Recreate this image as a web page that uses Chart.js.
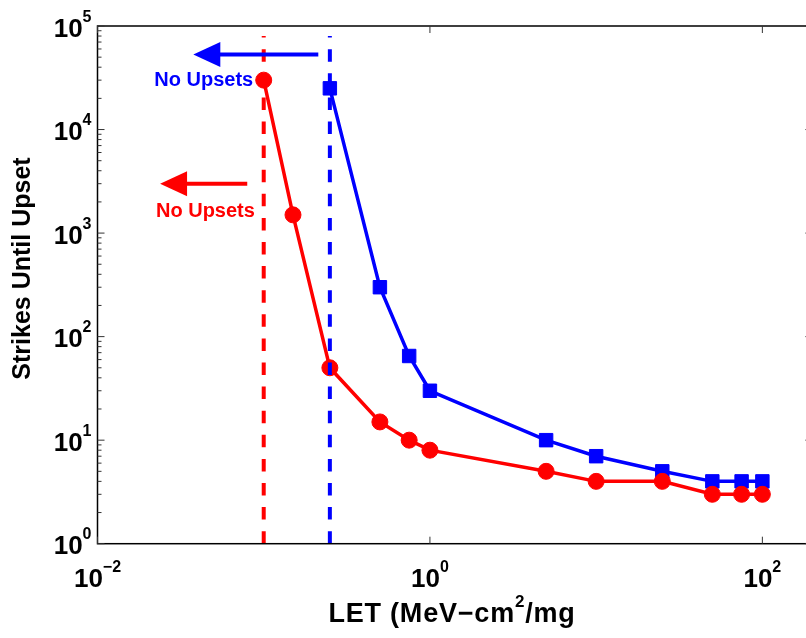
<!DOCTYPE html>
<html>
<head>
<meta charset="utf-8">
<title>Strikes Until Upset vs LET</title>
<script src="https://cdn.jsdelivr.net/npm/chart.js@4/dist/chart.umd.min.js"></script>
<style>
  html, body { margin: 0; padding: 0; overflow: hidden; background: #ffffff; }
  #wrap { position: relative; width: 830px; height: 638px; }
</style>
</head>
<body>
<div id="wrap"><canvas id="chart"></canvas></div>
<script>
// LET values (MeV-cm^2/mg) and strikes until upset for the two cells
const letRed = [0.1, 0.15, 0.25, 0.5, 0.75, 1, 5, 10, 25, 50, 75, 100];
const strikesRed = [30000, 1500, 50, 15, 10, 8, 5, 4, 4, 3, 3, 3];
const letBlue = [0.25, 0.5, 0.75, 1, 5, 10, 25, 50, 75, 100];
const strikesBlue = [25000, 300, 65, 30, 10, 7, 5, 4, 4, 4];

// Upset thresholds (vertical dashed lines) and their extent
const thresholdRed = 0.1;
const thresholdBlue = 0.25;
const thresholdSpan = [1, 80000];

// "No Upsets" arrows: [tip LET, tail LET, strikes]
const arrowBlue = [0.0377, 0.213, 53000];
const arrowRed = [0.0238, 0.0796, 3000];
// "No Upsets" label anchors (right end): [LET, strikes]
const noteBlue = [0.0865, 30000];
const noteRed = [0.0885, 1600];
const noteText = 'No Upsets';

// Axis ranges and labelled decades
const xRange = [0.01, 200];
const yRange = [1, 100000];
const xLabelExps = [-2, 0, 2];
const yLabelExps = [0, 1, 2, 3, 4, 5];

const RED = '#ff0000';
const BLUE = '#0000ff';
const FONT = '"Liberation Sans", Arial, Helvetica, sans-serif';

const toXY = (xs, ys) => xs.map((x, i) => ({ x: x, y: ys[i] }));
const sup = e => (e < 0 ? '\u2212' + Math.abs(e) : String(e));

// Draws "10" with a raised exponent; align is 'right' or 'center'
function drawPower(ctx, exp, ax, tickY, baseOff, supOff, align) {
  ctx.font = 'bold 26px ' + FONT;
  const w1 = ctx.measureText('10').width;
  ctx.font = 'bold 16px ' + FONT;
  const e = sup(exp);
  const w2 = ctx.measureText(e).width;
  const total = w1 + w2;
  const left = align === 'right' ? ax - total : ax - total / 2;
  ctx.textAlign = 'left';
  ctx.textBaseline = 'alphabetic';
  ctx.font = 'bold 26px ' + FONT;
  ctx.fillText('10', left, tickY + baseOff);
  ctx.font = 'bold 16px ' + FONT;
  ctx.fillText(e, left + w1, tickY + supOff);
}

function drawArrow(ctx, xs, ys, spec, color) {
  const tip = xs.getPixelForValue(spec[0]);
  const tail = xs.getPixelForValue(spec[1]);
  const y = ys.getPixelForValue(spec[2]);
  const headLen = 27, headHalf = 12.5;
  ctx.save();
  ctx.strokeStyle = color;
  ctx.fillStyle = color;
  ctx.lineWidth = 4;
  ctx.beginPath();
  ctx.moveTo(tail, y);
  ctx.lineTo(tip + headLen - 1, y);
  ctx.stroke();
  ctx.beginPath();
  ctx.moveTo(tip, y);
  ctx.lineTo(tip + headLen, y - headHalf);
  ctx.lineTo(tip + headLen, y + headHalf);
  ctx.closePath();
  ctx.fill();
  ctx.restore();
}

const frame = {
  id: 'frame',
  afterDatasetsDraw(chart) {
    const { ctx, scales: { x, y } } = chart;
    drawArrow(ctx, x, y, arrowBlue, BLUE);
    drawArrow(ctx, x, y, arrowRed, RED);
    ctx.save();
    ctx.font = 'bold 20px ' + FONT;
    ctx.textAlign = 'right';
    ctx.textBaseline = 'middle';
    ctx.fillStyle = BLUE;
    ctx.fillText(noteText, x.getPixelForValue(noteBlue[0]), y.getPixelForValue(noteBlue[1]));
    ctx.fillStyle = RED;
    ctx.fillText(noteText, x.getPixelForValue(noteRed[0]), y.getPixelForValue(noteRed[1]));
    ctx.restore();
  },
  afterDraw(chart) {
    const { ctx, chartArea: a, scales: { x, y } } = chart;
    ctx.save();
    ctx.strokeStyle = '#000000';
    ctx.fillStyle = '#000000';
    ctx.lineWidth = 1.5;
    ctx.strokeRect(a.left, a.top, a.right - a.left, a.bottom - a.top);

    ctx.lineWidth = 1;
    ctx.strokeStyle = '#333333';
    ctx.beginPath();
    // y ticks: majors at each decade, minors at 2..9
    for (let k = 0; k <= 5; k++) {
      const base = Math.pow(10, k);
      const py = y.getPixelForValue(base);
      ctx.moveTo(a.left, py); ctx.lineTo(a.left + 7, py);
      ctx.moveTo(a.right, py); ctx.lineTo(a.right - 7, py);
      if (k < 5) {
        for (let m = 2; m <= 9; m++) {
          const pm = y.getPixelForValue(base * m);
          ctx.moveTo(a.left, pm); ctx.lineTo(a.left + 4, pm);
          ctx.moveTo(a.right, pm); ctx.lineTo(a.right - 4, pm);
        }
      }
    }
    // x ticks at labelled decades
    xLabelExps.forEach(e => {
      const px = x.getPixelForValue(Math.pow(10, e));
      ctx.moveTo(px, a.bottom); ctx.lineTo(px, a.bottom - 7);
      ctx.moveTo(px, a.top); ctx.lineTo(px, a.top + 7);
    });
    ctx.stroke();

    // tick labels
    yLabelExps.forEach(e => {
      drawPower(ctx, e, a.left - 6, y.getPixelForValue(Math.pow(10, e)), 10.5, -4.5, 'right');
    });
    xLabelExps.forEach(e => {
      drawPower(ctx, e, x.getPixelForValue(Math.pow(10, e)), a.bottom, 43.5, 28.5, 'center');
    });

    // axis titles
    ctx.textBaseline = 'alphabetic';
    ctx.textAlign = 'left';
    const t1 = 'LET (MeV\u2212cm', t2 = '2', t3 = '/mg';
    ctx.letterSpacing = '0.8px';
    ctx.font = 'bold 27px ' + FONT;
    const w1 = ctx.measureText(t1).width, w3 = ctx.measureText(t3).width;
    ctx.font = 'bold 17px ' + FONT;
    const w2 = ctx.measureText(t2).width;
    let tx = 452 - (w1 + w2 + w3) / 2;
    const tb = a.bottom + 78;
    ctx.font = 'bold 27px ' + FONT;
    ctx.fillText(t1, tx, tb);
    ctx.font = 'bold 17px ' + FONT;
    ctx.fillText(t2, tx + w1, tb - 15);
    ctx.font = 'bold 27px ' + FONT;
    ctx.fillText(t3, tx + w1 + w2, tb);
    ctx.letterSpacing = '0px';

    ctx.font = 'bold 25px ' + FONT;
    ctx.translate(30, 268.5);
    ctx.rotate(-Math.PI / 2);
    ctx.textAlign = 'center';
    ctx.fillText('Strikes Until Upset', 0, 0);
    ctx.restore();
  }
};

const dashed = [12.5, 11.6];

new Chart(document.getElementById('chart'), {
  type: 'line',
  data: {
    datasets: [
      {
        label: 'Threshold A',
        data: toXY([thresholdRed, thresholdRed], thresholdSpan),
        borderColor: RED, borderWidth: 4, borderDash: dashed,
        pointRadius: 0, order: 1
      },
      {
        label: 'Threshold B',
        data: toXY([thresholdBlue, thresholdBlue], thresholdSpan),
        borderColor: BLUE, borderWidth: 4, borderDash: dashed,
        pointRadius: 0, order: 2
      },
      {
        label: 'Cell A',
        data: toXY(letRed, strikesRed),
        borderColor: RED, backgroundColor: RED, borderWidth: 3.5,
        pointStyle: 'circle', pointRadius: 8, pointBorderWidth: 1,
        pointBackgroundColor: RED, pointBorderColor: RED, order: 3
      },
      {
        label: 'Cell B',
        data: toXY(letBlue, strikesBlue),
        borderColor: BLUE, backgroundColor: BLUE, borderWidth: 3.5,
        pointStyle: 'rect', pointRadius: 9.5, pointBorderWidth: 1,
        pointBackgroundColor: BLUE, pointBorderColor: BLUE, order: 4
      }
    ]
  },
  options: {
    responsive: true,
    maintainAspectRatio: false,
    animation: false,
    devicePixelRatio: 1,
    layout: { padding: { left: 97.5, top: 26, right: 17.6, bottom: 94.3 } },
    elements: { line: { tension: 0 } },
    plugins: { legend: { display: false }, tooltip: { enabled: false } },
    scales: {
      x: { type: 'logarithmic', min: xRange[0], max: xRange[1], display: false },
      y: { type: 'logarithmic', min: yRange[0], max: yRange[1], display: false }
    }
  },
  plugins: [frame]
});
</script>
</body>
</html>
